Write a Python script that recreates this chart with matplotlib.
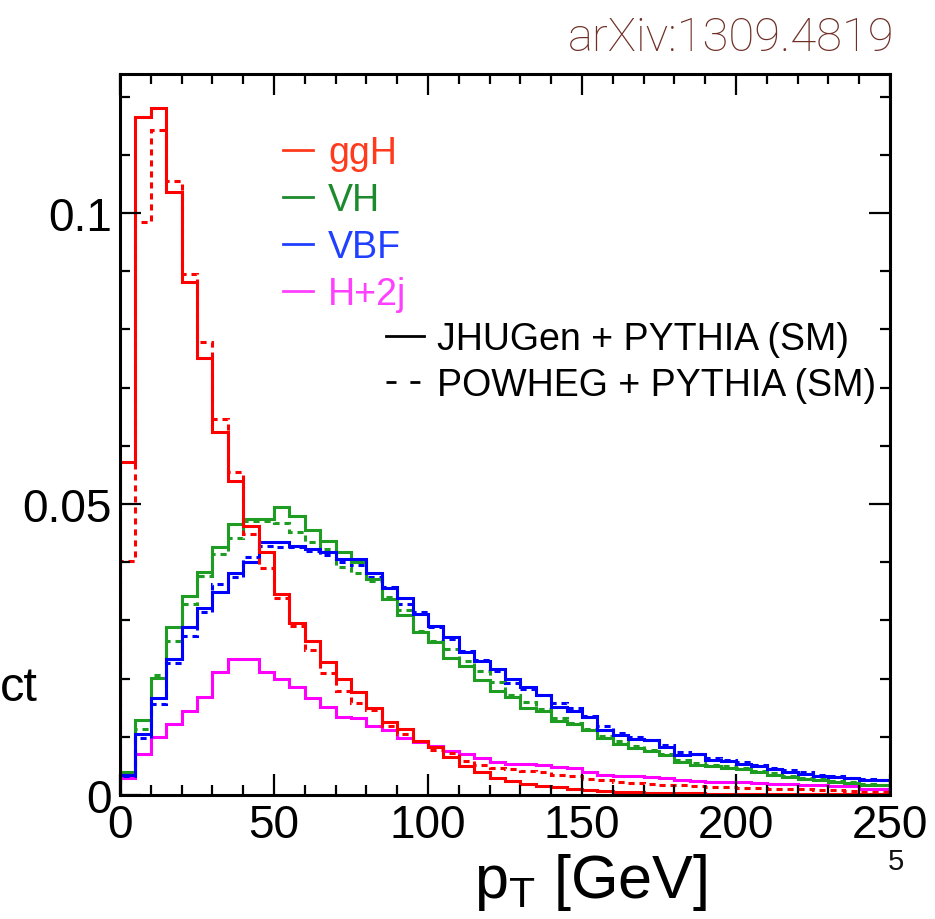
import numpy as np
import matplotlib
matplotlib.use("Agg")
import matplotlib.pyplot as plt
from matplotlib.lines import Line2D
from matplotlib.ticker import MultipleLocator, FixedLocator, FixedFormatter

plt.rcParams['font.family'] = ['Liberation Sans', 'DejaVu Sans']

# ---------------- data (5 GeV bins, 0-250 GeV) ----------------
bin_edges = np.arange(0, 255, 5)

ggH_jhugen = [0.0572, 0.1165, 0.1180, 0.1036, 0.0881, 0.0751, 0.0624, 0.0540, 0.0462, 0.0417,
              0.0345, 0.0296, 0.0264, 0.0228, 0.0200, 0.0177, 0.0149, 0.0125, 0.0113, 0.0093,
              0.0082, 0.0065, 0.0050, 0.0039, 0.0030, 0.0024, 0.0019, 0.0015, 0.0013, 0.0010,
              0.0008, 0.0007, 0.0006, 0.0005, 0.0004, 0.0004, 0.0003, 0.0003, 0.0002, 0.0002,
              0.0002, 0.0002, 0.0001, 0.0001, 0.0001, 0.0001, 0.0001, 0.0001, 0.0001, 0.0001]
ggH_powheg = [0.0402, 0.0985, 0.1143, 0.1055, 0.0895, 0.0778, 0.0646, 0.0555, 0.0448, 0.0390,
              0.0338, 0.0290, 0.0249, 0.0210, 0.0179, 0.0158, 0.0146, 0.0119, 0.0105, 0.0092,
              0.0078, 0.0072, 0.0058, 0.0052, 0.0047, 0.0044, 0.0041, 0.0039, 0.0035, 0.0032,
              0.0027, 0.0025, 0.0022, 0.0021, 0.0019, 0.0018, 0.0017, 0.0016, 0.0014, 0.0013,
              0.0012, 0.0012, 0.0011, 0.0010, 0.0010, 0.0009, 0.0008, 0.0007, 0.0006, 0.0005]
VH_jhugen = [0.0040, 0.0129, 0.0201, 0.0288, 0.0342, 0.0383, 0.0426, 0.0466, 0.0474, 0.0474,
             0.0495, 0.0479, 0.0455, 0.0436, 0.0417, 0.0400, 0.0371, 0.0337, 0.0309, 0.0280,
             0.0263, 0.0235, 0.0222, 0.0198, 0.0179, 0.0168, 0.0150, 0.0145, 0.0128, 0.0122,
             0.0112, 0.0098, 0.0088, 0.0080, 0.0076, 0.0068, 0.0056, 0.0051, 0.0049, 0.0047,
             0.0045, 0.0040, 0.0034, 0.0031, 0.0027, 0.0026, 0.0022, 0.0021, 0.0017, 0.0017]
VH_powheg = [0.0038, 0.0113, 0.0206, 0.0265, 0.0328, 0.0376, 0.0415, 0.0441, 0.0470, 0.0470,
             0.0467, 0.0452, 0.0435, 0.0423, 0.0392, 0.0381, 0.0368, 0.0340, 0.0318, 0.0282,
             0.0265, 0.0251, 0.0230, 0.0213, 0.0194, 0.0172, 0.0160, 0.0148, 0.0132, 0.0124,
             0.0114, 0.0102, 0.0092, 0.0084, 0.0078, 0.0070, 0.0060, 0.0055, 0.0051, 0.0049,
             0.0046, 0.0041, 0.0037, 0.0033, 0.0030, 0.0027, 0.0024, 0.0022, 0.0019, 0.0018]
VBF_jhugen = [0.0034, 0.0105, 0.0166, 0.0234, 0.0288, 0.0321, 0.0349, 0.0381, 0.0400, 0.0435,
              0.0435, 0.0428, 0.0423, 0.0418, 0.0405, 0.0405, 0.0381, 0.0356, 0.0338, 0.0311,
              0.0290, 0.0271, 0.0246, 0.0230, 0.0216, 0.0199, 0.0185, 0.0172, 0.0151, 0.0145,
              0.0134, 0.0112, 0.0103, 0.0096, 0.0094, 0.0082, 0.0068, 0.0070, 0.0060, 0.0058,
              0.0053, 0.0050, 0.0045, 0.0040, 0.0036, 0.0033, 0.0031, 0.0029, 0.0026, 0.0025]
VBF_powheg = [0.0032, 0.0098, 0.0156, 0.0227, 0.0274, 0.0315, 0.0362, 0.0374, 0.0409, 0.0428,
              0.0426, 0.0426, 0.0419, 0.0413, 0.0400, 0.0395, 0.0374, 0.0357, 0.0328, 0.0314,
              0.0288, 0.0268, 0.0248, 0.0232, 0.0213, 0.0192, 0.0182, 0.0172, 0.0158, 0.0150,
              0.0136, 0.0118, 0.0106, 0.0100, 0.0094, 0.0086, 0.0074, 0.0071, 0.0064, 0.0060,
              0.0056, 0.0052, 0.0047, 0.0043, 0.0039, 0.0035, 0.0032, 0.0030, 0.0027, 0.0026]
H2j_jhugen = [0.0030, 0.0070, 0.0100, 0.0122, 0.0144, 0.0168, 0.0211, 0.0234, 0.0234, 0.0211,
              0.0199, 0.0185, 0.0167, 0.0151, 0.0134, 0.0132, 0.0118, 0.0112, 0.0098, 0.0091,
              0.0084, 0.0076, 0.0070, 0.0063, 0.0057, 0.0053, 0.0053, 0.0052, 0.0048, 0.0047,
              0.0040, 0.0034, 0.0033, 0.0033, 0.0031, 0.0030, 0.0025, 0.0024, 0.0023, 0.0023,
              0.0022, 0.0021, 0.0019, 0.0019, 0.0018, 0.0018, 0.0015, 0.0015, 0.0011, 0.0010]

process_labels = ["ggH", "VH", "VBF", "H+2j"]
generator_labels = ["JHUGen + PYTHIA (SM)", "POWHEG + PYTHIA (SM)"]
x_ticks = [0, 50, 100, 150, 200, 250]
y_ticks = [0, 0.05, 0.1]
y_tick_labels = ["0", "0.05", "0.1"]

# ---------------- styling ----------------
RED, GREEN, BLUE, MAG = "#ff0000", "#1f9c22", "#0000ff", "#ff00ff"
TXT_COLORS = ["#ff3a1d", "#1e8a2e", "#2040ff", "#ff40ff"]
LW = 2.2
DASH = (0, (2.0, 1.6))

W, H = 935, 920
fig = plt.figure(figsize=(W / 100, H / 100), dpi=100)
ax = fig.add_axes([120 / W, 1 - 796 / H, 770 / W, 721 / H])

ax.stairs(H2j_jhugen, bin_edges, color=MAG, lw=LW)
ax.stairs(VH_powheg, bin_edges, color=GREEN, lw=LW, linestyle=DASH)
ax.stairs(VBF_powheg, bin_edges, color=BLUE, lw=LW, linestyle=DASH)
ax.stairs(VH_jhugen, bin_edges, color=GREEN, lw=LW)
ax.stairs(VBF_jhugen, bin_edges, color=BLUE, lw=LW)
ax.stairs(ggH_powheg, bin_edges, color=RED, lw=LW, linestyle=DASH)
ax.stairs(ggH_jhugen, bin_edges, color=RED, lw=LW)

ax.set_xlim(0, 250)
ax.set_ylim(0, 0.1239)

ax.xaxis.set_major_locator(FixedLocator(x_ticks))
ax.xaxis.set_minor_locator(MultipleLocator(10))
ax.yaxis.set_major_locator(FixedLocator(y_ticks))
ax.yaxis.set_major_formatter(FixedFormatter(y_tick_labels))
ax.yaxis.set_minor_locator(MultipleLocator(0.01))
ax.tick_params(which='both', direction='in', top=True, right=True, width=1.6, colors='black')
ax.tick_params(which='major', length=15, labelsize=33, pad=6)
ax.tick_params(which='minor', length=7.5)
for s in ax.spines.values():
    s.set_linewidth(2.2)

# legends
h_proc = [Line2D([], [], color=c, lw=2.0) for c in TXT_COLORS]
leg1 = ax.legend(h_proc, process_labels, loc='upper left',
                 bbox_to_anchor=(283 / W, 1 - 136 / H), bbox_transform=fig.transFigure,
                 frameon=False, fontsize=27, handlelength=0.8, handletextpad=0.4,
                 labelspacing=0.29, borderpad=0, borderaxespad=0, labelcolor=TXT_COLORS)
ax.add_artist(leg1)
h_gen = [Line2D([], [], color='black', lw=2.0),
         Line2D([], [], color='black', lw=2.0, linestyle=(0, (3.6, 5.0)))]
leg2 = ax.legend(h_gen, generator_labels, loc='upper left',
                 bbox_to_anchor=(386 / W, 1 - 322 / H), bbox_transform=fig.transFigure,
                 frameon=False, fontsize=27, handlelength=1.0, handletextpad=0.35,
                 labelspacing=0.28, borderpad=0, borderaxespad=0)

fig.text(591 / W, 1 - 883 / H, r"p$_\mathregular{T}$ [GeV]", fontsize=44,
         ha='center', va='center')
fig.text(895 / W, 1 - 38 / H, "arXiv:1309.4819", fontsize=34, color="#6e2e25",
         ha='right', va='center', family=['Roboto', 'Liberation Sans'], fontweight='light')
fig.text(0 / W, 1 - 689 / H, "ct", fontsize=35, ha='left', va='center')
fig.text(896 / W, 1 - 862 / H, "5", fontsize=21, ha='center', va='center', color='#111111')

fig.savefig("out.png", dpi=100)
